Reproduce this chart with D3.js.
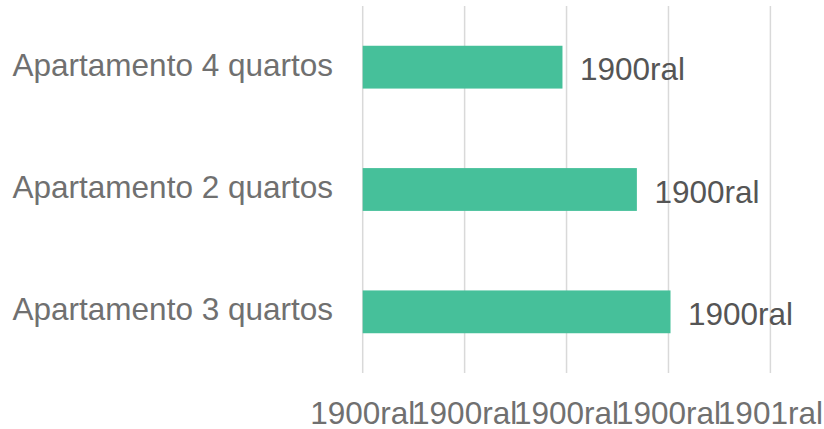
<!DOCTYPE html>
<html>
<head>
<meta charset="utf-8">
<script src="https://cdn.jsdelivr.net/npm/d3@7"></script>
<style>
  html, body { margin: 0; padding: 0; background: #ffffff; }
  #chart { width: 824px; height: 429px; }
</style>
</head>
<body>
<div id="chart"></div>
<script>
var categories = ['Apartamento 4 quartos', 'Apartamento 2 quartos', 'Apartamento 3 quartos'];
var values = [196, 269, 302];
var valueLabels = ['1900ral', '1900ral', '1900ral'];
var tickValues = [0, 100, 200, 300, 400];
var tickLabels = ['1900ral', '1900ral', '1900ral', '1900ral', '1901ral'];

function drawChart() {
    var container = document.getElementById('chart');
    var width = 824, height = 429;
    var font = 'Liberation Sans, Arial, sans-serif';

    var svg = d3.select(container)
        .append('svg')
        .attr('width', width)
        .attr('height', height);

    var x = d3.scaleLinear()
        .domain([0, 400])
        .range([362.7, 770.4]);

    var y = d3.scaleBand()
        .domain(categories)
        .range([6, 373])
        .paddingInner(0.65)
        .paddingOuter(0.325);

    // Gridlines
    svg.selectAll('line.grid')
        .data(tickValues)
        .enter()
        .append('line')
        .attr('class', 'grid')
        .attr('x1', function(d){ return x(d); })
        .attr('x2', function(d){ return x(d); })
        .attr('y1', 6)
        .attr('y2', 373)
        .attr('stroke', '#d9d9d9')
        .attr('stroke-width', 1.5);

    // Bars
    svg.selectAll('rect.bar')
        .data(values)
        .enter()
        .append('rect')
        .attr('class', 'bar')
        .attr('x', x(0))
        .attr('y', function(d, i){ return y(categories[i]); })
        .attr('width', function(d){ return x(d) - x(0); })
        .attr('height', y.bandwidth())
        .attr('fill', '#46c09a');

    // Category labels
    svg.selectAll('text.cat')
        .data(categories)
        .enter()
        .append('text')
        .attr('class', 'cat')
        .attr('x', 333)
        .attr('y', function(d){ return y(d) + y.bandwidth() / 2 + 8.5; })
        .attr('text-anchor', 'end')
        .attr('fill', '#707070')
        .style('font-family', font)
        .style('font-size', '31.5px')
        .text(function(d){ return d; });

    // Data labels
    svg.selectAll('text.val')
        .data(values)
        .enter()
        .append('text')
        .attr('class', 'val')
        .attr('x', function(d){ return x(d) + 17.5; })
        .attr('y', function(d, i){ return y(categories[i]) + y.bandwidth() / 2 + 13; })
        .attr('fill', '#555555')
        .style('font-family', font)
        .style('font-size', '31.5px')
        .text(function(d, i){ return valueLabels[i]; });

    // X axis tick labels
    svg.selectAll('text.tick')
        .data(tickValues)
        .enter()
        .append('text')
        .attr('class', 'tick')
        .attr('x', function(d){ return x(d); })
        .attr('y', 424)
        .attr('text-anchor', 'middle')
        .attr('fill', '#707070')
        .style('font-family', font)
        .style('font-size', '31.5px')
        .text(function(d, i){ return tickLabels[i]; });
}

drawChart();
</script>
</body>
</html>
